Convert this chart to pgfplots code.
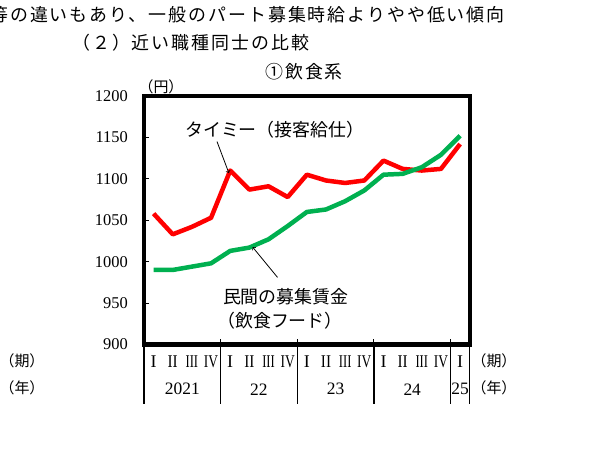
\documentclass[border=0pt]{standalone}
\usepackage{fontspec}
\setmainfont{Liberation Serif}
\newfontfamily\cjk{Noto Sans CJK JP}
\newfontfamily\cjkt[LetterSpace=11]{Noto Sans CJK JP}
\usepackage{pgfplots}
\pgfplotsset{compat=1.18}
\definecolor{tred}{RGB}{255,0,0}
\definecolor{tgreen}{RGB}{0,176,80}

\begin{document}
\begin{tikzpicture}
\useasboundingbox (0bp,0bp) rectangle (600bp,474bp);
% titles
\node[anchor=west, inner sep=0pt, font=\cjkt\fontsize{18}{21}\selectfont] at (-10bp,459bp) {等の違いもあり、一般のパート募集時給よりやや低い傾向};
\node[anchor=west, inner sep=0pt, font=\cjkt\fontsize{18}{21}\selectfont] at (72bp,431bp) {（２）近い職種同士の比較};
\node[anchor=west, inner sep=0pt, font=\cjkt\fontsize{18}{21}\selectfont] at (265bp,402bp) {①飲食系};
\node[font=\cjk\fontsize{15}{17}\selectfont] at (161bp,387bp) {（円）};
% period / year captions
\node[font=\cjk\fontsize{15}{17}\selectfont] at (22bp,113bp) {（期）};
\node[font=\cjk\fontsize{15}{17}\selectfont] at (22bp,86bp) {（年）};
\node[font=\cjk\fontsize{15}{17}\selectfont] at (494bp,113bp) {（期）};
\node[font=\cjk\fontsize{15}{17}\selectfont] at (494bp,86bp) {（年）};

\begin{axis}[
    at={(144bp,129.5bp)}, anchor=south west,
    scale only axis, width=325.7bp, height=248.5bp,
    xmin=-0.5, xmax=16.5, ymin=900, ymax=1200,
    ytick={900,950,...,1200},
    xtick={3.5,7.5,11.5,15.5}, xticklabels={},
    axis line style={line width=4.3bp},
    tick style={black, line width=1bp},
    tick align=inside, major tick length=5bp,
    ytick pos=left, xtick pos=bottom,
    yticklabel style={font=\fontsize{16.5}{18}\selectfont, inner sep=0pt, xshift=-16bp},
    /pgf/number format/1000 sep={},
    /pgf/number format/assume math mode=true,
    clip=false,
]
\addplot[tred, line width=4.5bp, line join=round] coordinates {
    (0,1058) (1,1033) (2,1042) (3,1053) (4,1110) (5,1087) (6,1091) (7,1078)
    (8,1105) (9,1098) (10,1095) (11,1098) (12,1122) (13,1112) (14,1110) (15,1112) (16,1142)
};
\addplot[tgreen, line width=4.5bp, line join=round] coordinates {
    (0,990) (1,990) (2,994) (3,998) (4,1013) (5,1017) (6,1027) (7,1043)
    (8,1060) (9,1063) (10,1073) (11,1086) (12,1105) (13,1106) (14,1114) (15,1129) (16,1152)
};

% annotations
\node[font=\cjk\fontsize{18}{20}\selectfont] at (axis cs:6.33,1159) {タイミー（接客給仕）};
\draw[-to, line width=0.8bp] (axis cs:3.31,1145) -- (axis cs:3.93,1107);
\node[font=\cjk\fontsize{18}{20}\selectfont] at (axis cs:6.9,957.6) {民間の募集賃金};
\node[font=\cjk\fontsize{18}{20}\selectfont] at (axis cs:6.6,928.8) {（飲食フード）};
\draw[-to, line width=0.8bp] (axis cs:6.47,981) -- (axis cs:5.17,1017.6);

% category separators below the axis
\draw[line width=1.2bp] (axis cs:-0.5,900) -- (axis cs:-0.5,828);
\draw[line width=1.2bp] (axis cs:3.5,900) -- (axis cs:3.5,828);
\draw[line width=1.2bp] (axis cs:7.5,900) -- (axis cs:7.5,828);
\draw[line width=1.2bp] (axis cs:11.5,900) -- (axis cs:11.5,828);
\draw[line width=1.2bp] (axis cs:15.5,900) -- (axis cs:15.5,828);
\draw[line width=1.2bp] (axis cs:16.5,900) -- (axis cs:16.5,828);

% quarters
\tikzset{qn/.style={font=\fontsize{18}{20}\selectfont, inner sep=0pt}}
\node[qn] at (axis cs:0,879.5) {I};
\node[qn] at (axis cs:1,879.5) {\scalebox{0.85}[1]{II}};
\node[qn] at (axis cs:2,879.5) {\scalebox{0.7}[1]{III}};
\node[qn] at (axis cs:3,879.5) {\scalebox{0.75}[1]{IV}};
\node[qn] at (axis cs:4,879.5) {I};
\node[qn] at (axis cs:5,879.5) {\scalebox{0.85}[1]{II}};
\node[qn] at (axis cs:6,879.5) {\scalebox{0.7}[1]{III}};
\node[qn] at (axis cs:7,879.5) {\scalebox{0.75}[1]{IV}};
\node[qn] at (axis cs:8,879.5) {I};
\node[qn] at (axis cs:9,879.5) {\scalebox{0.85}[1]{II}};
\node[qn] at (axis cs:10,879.5) {\scalebox{0.7}[1]{III}};
\node[qn] at (axis cs:11,879.5) {\scalebox{0.75}[1]{IV}};
\node[qn] at (axis cs:12,879.5) {I};
\node[qn] at (axis cs:13,879.5) {\scalebox{0.85}[1]{II}};
\node[qn] at (axis cs:14,879.5) {\scalebox{0.7}[1]{III}};
\node[qn] at (axis cs:15,879.5) {\scalebox{0.75}[1]{IV}};
\node[qn] at (axis cs:16,879.5) {I};
% years
\tikzset{yn/.style={font=\fontsize{17.5}{19}\selectfont, inner sep=0pt}}
\node[yn] at (axis cs:1.5,846) {2021};
\node[yn] at (axis cs:5.5,846) {22};
\node[yn] at (axis cs:9.5,846) {23};
\node[yn] at (axis cs:13.5,846) {24};
\node[yn] at (axis cs:16,846) {25};
\end{axis}
\end{tikzpicture}
\end{document}
